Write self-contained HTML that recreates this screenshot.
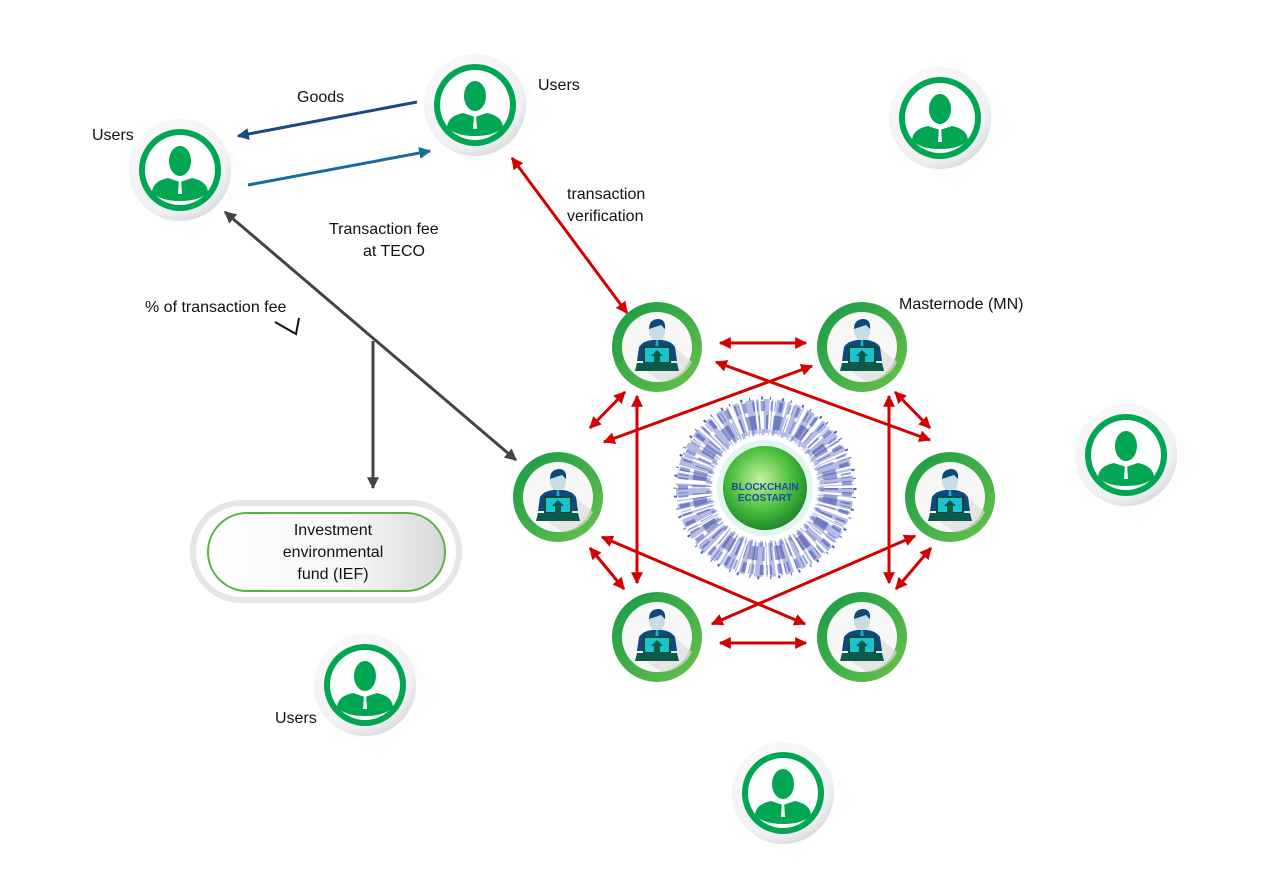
<!DOCTYPE html>
<html><head><meta charset="utf-8"><style>
html,body{margin:0;padding:0;background:#fff;}
svg{display:block;font-family:"Liberation Sans",sans-serif;}
</style></head><body>
<svg width="1268" height="896" viewBox="0 0 1268 896" xmlns="http://www.w3.org/2000/svg">
<defs>
<marker id="ar" viewBox="0 0 10 10" refX="9" refY="5" markerWidth="4" markerHeight="4" orient="auto-start-reverse"><path d="M0,0L10,5L0,10z" fill="#d40000"/></marker>
<marker id="ag" viewBox="0 0 10 10" refX="9" refY="5" markerWidth="4" markerHeight="4" orient="auto-start-reverse"><path d="M0,0L10,5L0,10z" fill="#444"/></marker>
<marker id="ab" viewBox="0 0 10 10" refX="9" refY="5" markerWidth="4" markerHeight="4" orient="auto-start-reverse"><path d="M0,0L10,5L0,10z" fill="#1a4a80"/></marker>
<marker id="ab2" viewBox="0 0 10 10" refX="9" refY="5" markerWidth="4" markerHeight="4" orient="auto-start-reverse"><path d="M0,0L10,5L0,10z" fill="#1a6a9a"/></marker>
<linearGradient id="sh" x1="0" y1="0" x2="1" y2="1"><stop offset="0" stop-color="#ccc" stop-opacity=".5"/><stop offset=".7" stop-color="#fff" stop-opacity="0"/></linearGradient>
<radialGradient id="wh" cx=".4" cy=".35" r=".7"><stop offset="0" stop-color="#fff"/><stop offset=".8" stop-color="#f0f1f3"/><stop offset="1" stop-color="#d5d8dc"/></radialGradient>
<linearGradient id="gr" x1="0" y1="0" x2="1" y2="1"><stop offset="0" stop-color="#159a48"/><stop offset="1" stop-color="#6cc24a"/></linearGradient>
<radialGradient id="gl" cx=".45" cy=".4" r=".6"><stop offset="0" stop-color="#c8f0a0"/><stop offset=".6" stop-color="#4cc040"/><stop offset="1" stop-color="#1d8a2c"/></radialGradient>
<linearGradient id="pill" x1="0" x2="1"><stop offset="0" stop-color="#fff"/><stop offset=".6" stop-color="#f6f6f6"/><stop offset="1" stop-color="#d8d8d8"/></linearGradient>
<g id="user">
<path d="M30,-40 L95,25 L40,90 L-35,35 Z" fill="url(#sh)"/>
<circle r="51" fill="url(#wh)"/>
<circle r="41" fill="#00a651"/>
<circle r="35" fill="#fff"/>
<circle r="31" fill="#fff"/>
<ellipse cx="0" cy="-9" rx="11" ry="15" fill="#00a651"/>
<path d="M-28,22 Q-27,11 -12,8 L0,12 L12,8 Q27,11 28,22 Q20,31 0,31 Q-20,31 -28,22Z" fill="#00a651"/>
<path d="M-1,9 L1,9 L2,24 L-2,24Z" fill="#fff"/>
</g>
<g id="mn">
<circle r="45" fill="url(#gr)"/>
<circle r="35" fill="#f7f7f7"/>
<path d="M5,-10 L35,15 A35,35 0 0 1 5,35 L-10,25Z" fill="#ddd" opacity=".7"/>
<ellipse cx="0" cy="-16" rx="8" ry="10" fill="#c8dde3"/>
<path d="M-8,-18 Q-8,-28 2,-28 Q9,-27 8,-18 L4,-22 Z" fill="#0b4a7a"/>
<path d="M-20,14 L-18,0 Q-14,-6 -5,-7 L5,-7 Q14,-6 18,0 L20,14Z" fill="#0b4a7a"/>
<path d="M-1,-7 L1,-7 L2,2 L-2,2Z" fill="#1bb0c8"/>
<rect x="-13" y="0" width="26" height="16" fill="#1bc3cf" stroke="#0b4a3a" stroke-width="2"/>
<path d="M-20,16 L20,16 L22,24 L-22,24Z" fill="#0b5a4a"/>
<path d="M0,3 L6,9 L3,9 L3,16 L-3,16 L-3,9 L-6,9Z" fill="#0b5a4a"/>
</g>
</defs>

<!-- users -->
<use href="#user" x="180" y="170"/>
<use href="#user" x="475" y="105"/>
<use href="#user" x="940" y="118"/>
<use href="#user" x="1126" y="455"/>
<use href="#user" x="365" y="685"/>
<use href="#user" x="783" y="793"/>

<!-- blue arrows -->
<line x1="417" y1="102" x2="238" y2="136" stroke="#1a4a80" stroke-width="3" marker-end="url(#ab)"/>
<line x1="248" y1="185" x2="430" y2="151" stroke="#1a6a9a" stroke-width="3" marker-end="url(#ab2)"/>

<!-- gray -->
<line x1="225" y1="212" x2="516" y2="460" stroke="#444" stroke-width="3" marker-start="url(#ag)" marker-end="url(#ag)"/>
<line x1="373" y1="341" x2="373" y2="488" stroke="#444" stroke-width="3" marker-end="url(#ag)"/>
<polyline points="275,322 296,334 299,318" fill="none" stroke="#111" stroke-width="2"/>

<!-- pill -->
<rect x="190" y="500" width="272" height="103" rx="51" fill="#e4e6e8"/>
<rect x="196" y="506" width="260" height="91" rx="45" fill="#fff"/>
<rect x="208" y="513" width="237" height="78" rx="39" fill="url(#pill)" stroke="#5ab33c" stroke-width="2"/>
<text x="333" y="535" font-size="16" text-anchor="middle" fill="#111">Investment</text>
<text x="333" y="557" font-size="16" text-anchor="middle" fill="#111">environmental</text>
<text x="333" y="579" font-size="16" text-anchor="middle" fill="#111">fund (IEF)</text>

<!-- network -->
<g fill="none" stroke="#2a3fb0">
<circle cx="765" cy="488" r="72" stroke-width="34" stroke-dasharray="5 2 1 3 7 2 2 4" opacity=".35"/>
<circle cx="765" cy="488" r="66" stroke-width="14" stroke-dasharray="2 5 9 3 1 6" opacity=".45" stroke="#1a2a9a"/>
<circle cx="765" cy="488" r="82" stroke-width="10" stroke-dasharray="1 3 4 6 2 2" opacity=".5"/>
<circle cx="765" cy="488" r="90" stroke-width="3" stroke-dasharray="2 7 1 11" stroke="#1020a0" opacity=".7"/>
<circle cx="765" cy="488" r="56" stroke-width="6" stroke-dasharray="3 4 1 2" opacity=".35"/>
</g>
<circle cx="765" cy="488" r="48" fill="#e2f5ee"/>
<circle cx="765" cy="488" r="42" fill="url(#gl)"/>
<text x="765" y="490" font-size="10" font-weight="bold" text-anchor="middle" fill="#1f4c99">BLOCKCHAIN</text>
<text x="765" y="501" font-size="10" font-weight="bold" text-anchor="middle" fill="#1f4c99">ECOSTART</text>

<!-- red arrows -->
<g stroke="#d40000" stroke-width="3" marker-start="url(#ar)" marker-end="url(#ar)">
<line x1="512" y1="158" x2="627" y2="313"/>
<line x1="720" y1="343" x2="806" y2="343"/>
<line x1="716" y1="362" x2="930" y2="440"/>
<line x1="812" y1="366" x2="604" y2="442"/>
<line x1="590" y1="428" x2="625" y2="392"/>
<line x1="895" y1="392" x2="930" y2="428"/>
<line x1="637" y1="396" x2="637" y2="583"/>
<line x1="889" y1="396" x2="889" y2="583"/>
<line x1="590" y1="548" x2="624" y2="589"/>
<line x1="931" y1="548" x2="896" y2="589"/>
<line x1="602" y1="537" x2="805" y2="624"/>
<line x1="915" y1="536" x2="712" y2="624"/>
<line x1="720" y1="643" x2="806" y2="643"/>
</g>

<!-- masternodes -->
<use href="#mn" x="657" y="347"/>
<use href="#mn" x="862" y="347"/>
<use href="#mn" x="558" y="497"/>
<use href="#mn" x="950" y="497"/>
<use href="#mn" x="657" y="637"/>
<use href="#mn" x="862" y="637"/>

<!-- labels -->
<g font-size="16" fill="#111">
<text x="92" y="140">Users</text>
<text x="538" y="90">Users</text>
<text x="297" y="102">Goods</text>
<text x="567" y="199">transaction</text>
<text x="567" y="221">verification</text>
<text x="329" y="234">Transaction fee</text>
<text x="363" y="256">at TECO</text>
<text x="145" y="312">% of transaction fee</text>
<text x="899" y="309">Masternode (MN)</text>
<text x="275" y="723">Users</text>
</g>
</svg>
</body></html>
